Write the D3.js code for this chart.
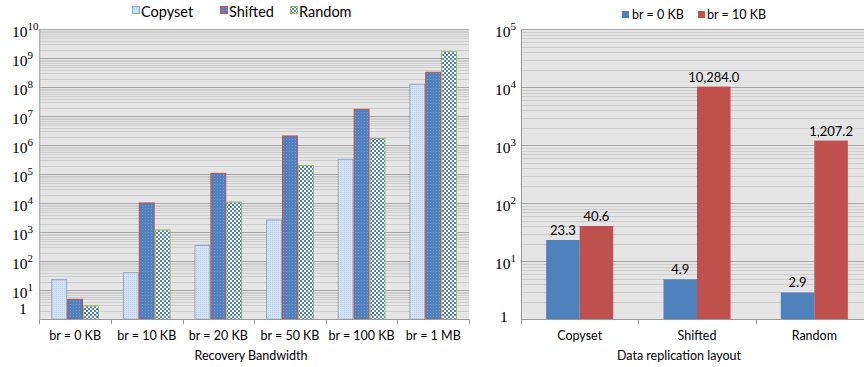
<!DOCTYPE html>
<html>
<head>
<meta charset="utf-8">
<script src="https://cdn.jsdelivr.net/npm/d3@7"></script>
<style>
  body { margin: 0; background: #fff; }
  svg { display: block; }
  .lbl { font-family: Lato, "Open Sans", sans-serif; fill: #000; }
  .ytick { font-family: "Liberation Serif", "DejaVu Serif", serif; fill: #000; }
</style>
</head>
<body>
<svg id="chart" width="864" height="367"></svg>
<script>
// left chart: recovery bandwidth
const leftCategories = ["br = 0 KB", "br = 10 KB", "br = 20 KB", "br = 50 KB", "br = 100 KB", "br = 1 MB"];
const leftSeries = ["Copyset", "Shifted", "Random"];
const copysetValues = [23.3, 40.6, 355, 2650, 330000, 127000000];
const shiftedValues = [4.9, 10284, 108000, 2100000, 17400000, 330000000];
const randomValues = [2.9, 1207.2, 11100, 200000, 1740000, 1700000000];

// right chart: data replication layout
const rightCategories = ["Copyset", "Shifted", "Random"];
const rightSeries = ["br = 0 KB", "br = 10 KB"];
const br0Values = [23.3, 4.9, 2.9];
const br10Values = [40.6, 10284.0, 1207.2];

const svg = d3.select("#chart");
const defs = svg.append("defs");

// pattern fills, roughly like the excel ones
var p1 = defs.append("pattern").attr("id", "patCopy").attr("width", 2).attr("height", 2).attr("patternUnits", "userSpaceOnUse");
p1.append("rect").attr("width", 2).attr("height", 2).attr("fill", "#d3e2f4");
p1.append("rect").attr("width", 1).attr("height", 1).attr("fill", "#bccfea");

var p2 = defs.append("pattern").attr("id", "patShift").attr("width", 3).attr("height", 3).attr("patternUnits", "userSpaceOnUse");
p2.append("rect").attr("width", 3).attr("height", 3).attr("fill", "#5081be");
p2.append("rect").attr("x", 1).attr("y", 1).attr("width", 1).attr("height", 1).attr("fill", "#7ba0d1");

var p3 = defs.append("pattern").attr("id", "patRand").attr("width", 4).attr("height", 4).attr("patternUnits", "userSpaceOnUse");
p3.append("rect").attr("width", 4).attr("height", 4).attr("fill", "#ffffff");
p3.append("rect").attr("width", 2).attr("height", 2).attr("fill", "#4f81bd");
p3.append("rect").attr("x", 2).attr("y", 2).attr("width", 2).attr("height", 2).attr("fill", "#4f81bd");

const leftFill = ["url(#patCopy)", "url(#patShift)", "url(#patRand)"];
const leftStroke = ["#8aa6cc", "#c0504d", "#9bbb59"];
const rightFill = ["#4f81bd", "#c0504d"];

const plotTop = 29.3, plotBottom = 319.3;

function drawPlot(g, x, y, decades) {
  var x0 = x.range()[0], x1 = x.range()[1];
  g.append("rect")
    .attr("x", x0).attr("y", plotTop)
    .attr("width", x1 - x0).attr("height", plotBottom - plotTop)
    .attr("fill", "#e5e5e5");

  // minor gridlines 2..9 of every decade
  var minor = d3.range(0, decades).flatMap(k => d3.range(2, 10).map(m => m * Math.pow(10, k)));
  g.selectAll(".minor").data(minor).enter().append("line")
    .attr("x1", x0).attr("x2", x1)
    .attr("y1", d => Math.round(y(d)) + 0.5).attr("y2", d => Math.round(y(d)) + 0.5)
    .attr("stroke", "#cdcdcd").attr("stroke-width", 1);

  var major = d3.range(1, decades + 1).map(k => Math.pow(10, k));
  g.selectAll(".major").data(major).enter().append("line")
    .attr("x1", x0).attr("x2", x1)
    .attr("y1", d => Math.round(y(d)) + 0.5).attr("y2", d => Math.round(y(d)) + 0.5)
    .attr("stroke", "#a8a8a8").attr("stroke-width", 1);
}

function drawAxes(g, x, y, decades, labelX, oneX, oneY) {
  var x0 = x.range()[0], x1 = x.range()[1];
  // y axis line
  g.append("line").attr("x1", x0 + 0.5).attr("x2", x0 + 0.5)
    .attr("y1", plotTop).attr("y2", plotBottom).attr("stroke", "#999");
  // x axis line + ticks at category borders
  g.append("line").attr("x1", x0).attr("x2", x1)
    .attr("y1", Math.round(plotBottom) + 0.5).attr("y2", Math.round(plotBottom) + 0.5).attr("stroke", "#999");
  var borders = x.domain().map(d => x(d)).concat([x1]);
  g.selectAll(".xt").data(borders).enter().append("line")
    .attr("x1", d => Math.round(d) + 0.5).attr("x2", d => Math.round(d) + 0.5)
    .attr("y1", plotBottom).attr("y2", plotBottom + 5).attr("stroke", "#999");

  // y tick labels, 10^k with superscript
  var vals = d3.range(0, decades + 1).map(k => Math.pow(10, k));
  vals.forEach(function(v, k) {
    var t = g.append("text").attr("class", "ytick").attr("font-size", 15.5);
    if (k === 0) {
      t.attr("x", oneX).attr("y", oneY).text("1");
    } else {
      t.attr("x", labelX).attr("y", y(v) + 8);
      t.append("tspan").text("10");
      t.append("tspan").attr("dy", -7).attr("font-size", 11).text(k);
    }
  });

  // category labels
  g.selectAll(".xl").data(x.domain()).enter().append("text")
    .attr("class", "lbl")
    .attr("x", d => x(d) + x.bandwidth() / 2)
    .attr("y", 340)
    .attr("text-anchor", "middle")
    .attr("font-size", 12.5)
    .text(d => d);
}

// ---------- left chart ----------
var xL = d3.scaleBand().domain(leftCategories).range([39.3, 469]).padding(0);
var xLs = d3.scaleBand().domain(leftSeries).range([0, xL.bandwidth()]).paddingInner(0).paddingOuter(0.75);
var yL = d3.scaleLog().domain([1, 1e10]).range([plotBottom, plotTop]);

var gL = svg.append("g");
drawPlot(gL, xL, yL, 10);

var leftData = [copysetValues, shiftedValues, randomValues];
leftSeries.forEach(function(s, si) {
  gL.selectAll(".bar" + si)
    .data(leftCategories.map((c, i) => ({cat: c, value: leftData[si][i]})))
    .enter().append("rect")
    .attr("x", d => xL(d.cat) + xLs(s) + 0.5)
    .attr("y", d => yL(d.value))
    .attr("width", xLs.bandwidth() - 1)
    .attr("height", d => plotBottom - yL(d.value))
    .attr("fill", leftFill[si])
    .attr("stroke", leftStroke[si])
    .attr("stroke-width", 1);
});
drawAxes(gL, xL, yL, 10, 12, 19, 314);

gL.append("text").attr("class", "lbl")
  .attr("x", 251).attr("y", 360).attr("text-anchor", "middle")
  .attr("font-size", 12.5).text("Recovery Bandwidth");

// left legend
var legL = [{x: 132, tx: 141}, {x: 220, tx: 229}, {x: 290, tx: 299}];
leftSeries.forEach(function(s, si) {
  gL.append("rect").attr("x", legL[si].x + 0.5).attr("y", 6.5)
    .attr("width", 7).attr("height", 7)
    .attr("fill", leftFill[si]).attr("stroke", leftStroke[si]);
  gL.append("text").attr("class", "lbl")
    .attr("x", legL[si].tx).attr("y", 17).attr("font-size", 14.5).text(s);
});

// ---------- right chart ----------
var xR = d3.scaleBand().domain(rightCategories).range([521, 873]).padding(0);
var xRs = d3.scaleBand().domain(rightSeries).range([0, xR.bandwidth()]).paddingInner(0).paddingOuter(0.75);
var yR = d3.scaleLog().domain([1, 1e5]).range([plotBottom, plotTop]);

var gR = svg.append("g");
drawPlot(gR, xR, yR, 5);

var rightData = [br0Values, br10Values];
var fmt = d3.format(",.1f");
rightSeries.forEach(function(s, si) {
  var rows = rightCategories.map((c, i) => ({cat: c, value: rightData[si][i]}));
  gR.selectAll(".rbar" + si).data(rows).enter().append("rect")
    .attr("x", d => xR(d.cat) + xRs(s))
    .attr("y", d => yR(d.value))
    .attr("width", xRs.bandwidth())
    .attr("height", d => plotBottom - yR(d.value))
    .attr("fill", rightFill[si]);
  gR.selectAll(".rlab" + si).data(rows).enter().append("text")
    .attr("class", "lbl")
    .attr("x", d => xR(d.cat) + xRs(s) + xRs.bandwidth() / 2)
    .attr("y", d => yR(d.value) - 5)
    .attr("text-anchor", "middle")
    .attr("font-size", 13)
    .text(d => fmt(d.value));
});
drawAxes(gR, xR, yR, 5, 495, 500, 322);

gR.append("text").attr("class", "lbl")
  .attr("x", 679).attr("y", 360).attr("text-anchor", "middle")
  .attr("font-size", 12.5).text("Data replication layout");

// right legend
var legR = [{x: 622, tx: 632}, {x: 698, tx: 707}];
rightSeries.forEach(function(s, si) {
  gR.append("rect").attr("x", legR[si].x).attr("y", 11)
    .attr("width", 7).attr("height", 7)
    .attr("fill", rightFill[si]);
  gR.append("text").attr("class", "lbl")
    .attr("x", legR[si].tx).attr("y", 19).attr("font-size", 12.5).text(s);
});
</script>
</body>
</html>
